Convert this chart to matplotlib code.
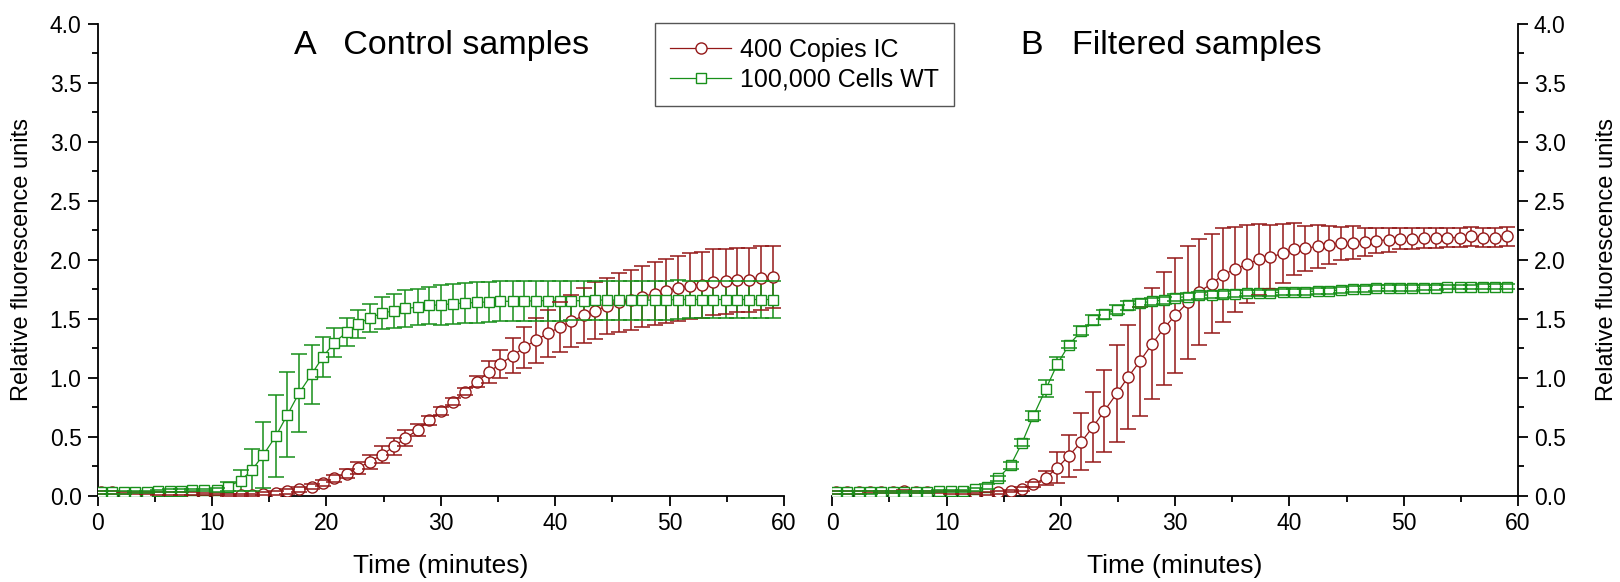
import numpy as np
import matplotlib.pyplot as plt
from matplotlib.ticker import MultipleLocator

plt.rcParams['font.family'] = ['Liberation Sans', 'DejaVu Sans']

# time of each reading (minutes)
time_min = [0.3, 1.3, 2.3, 3.3, 4.3, 5.3, 6.3, 7.3, 8.3, 9.3,
            10.4, 11.4, 12.5, 13.5, 14.5, 15.6, 16.6, 17.6, 18.7, 19.7,
            20.7, 21.8, 22.8, 23.8, 24.9, 25.9, 26.9, 28.0, 29.0, 30.0,
            31.1, 32.1, 33.2, 34.2, 35.2, 36.3, 37.3, 38.3, 39.4, 40.4,
            41.4, 42.5, 43.5, 44.5, 45.6, 46.6, 47.6, 48.7, 49.7, 50.7,
            51.8, 52.8, 53.8, 54.9, 55.9, 56.9, 58.0, 59.0]

# A - control samples
ic_ctrl = [0.03, 0.03, 0.025, 0.025, 0.025, 0.02, 0.02, 0.02, 0.02, 0.015,
           0.015, 0.01, 0.01, 0.01, 0.02, 0.025, 0.04, 0.055, 0.08, 0.11,
           0.15, 0.19, 0.24, 0.29, 0.35, 0.42, 0.49, 0.56, 0.64, 0.72,
           0.80, 0.885, 0.97, 1.05, 1.12, 1.19, 1.26, 1.32, 1.38, 1.43,
           1.48, 1.53, 1.57, 1.61, 1.64, 1.66, 1.69, 1.715, 1.74, 1.76,
           1.78, 1.79, 1.81, 1.82, 1.83, 1.83, 1.85, 1.855]
ic_ctrl_err = [0.01, 0.01, 0.01, 0.01, 0.01, 0.01, 0.01, 0.01, 0.01, 0.01,
               0.01, 0.01, 0.01, 0.01, 0.015, 0.015, 0.02, 0.02, 0.02, 0.025,
               0.03, 0.04, 0.05, 0.06, 0.07, 0.07, 0.065, 0.05, 0.04, 0.03,
               0.03, 0.03, 0.05, 0.09, 0.12, 0.15, 0.175, 0.19, 0.20, 0.21,
               0.22, 0.23, 0.24, 0.24, 0.25, 0.255, 0.26, 0.265, 0.27, 0.275,
               0.28, 0.28, 0.28, 0.275, 0.275, 0.27, 0.27, 0.265]
wt_ctrl = [0.03, 0.03, 0.03, 0.035, 0.035, 0.04, 0.045, 0.045, 0.05, 0.05,
           0.05, 0.08, 0.13, 0.22, 0.35, 0.51, 0.69, 0.87, 1.03, 1.18,
           1.30, 1.39, 1.46, 1.51, 1.55, 1.57, 1.59, 1.60, 1.615, 1.62,
           1.63, 1.635, 1.64, 1.645, 1.65, 1.65, 1.65, 1.655, 1.655, 1.655,
           1.655, 1.655, 1.66, 1.66, 1.66, 1.66, 1.66, 1.66, 1.66, 1.665,
           1.665, 1.665, 1.665, 1.665, 1.665, 1.665, 1.665, 1.665]
wt_ctrl_err = [0.01, 0.01, 0.01, 0.01, 0.01, 0.01, 0.01, 0.01, 0.01, 0.01,
               0.015, 0.04, 0.09, 0.18, 0.28, 0.345, 0.36, 0.33, 0.25, 0.17,
               0.125, 0.115, 0.12, 0.12, 0.135, 0.145, 0.155, 0.155, 0.16, 0.17,
               0.17, 0.17, 0.17, 0.17, 0.17, 0.17, 0.17, 0.17, 0.17, 0.17,
               0.165, 0.165, 0.165, 0.165, 0.165, 0.165, 0.165, 0.165, 0.165, 0.165,
               0.16, 0.16, 0.16, 0.16, 0.16, 0.16, 0.16, 0.16]

# B - filtered samples
ic_filt = [0.03, 0.03, 0.03, 0.035, 0.035, 0.035, 0.04, 0.035, 0.035, 0.035,
           0.03, 0.03, 0.025, 0.02, 0.03, 0.04, 0.06, 0.10, 0.155, 0.24,
           0.34, 0.46, 0.585, 0.72, 0.87, 1.01, 1.14, 1.29, 1.42, 1.53,
           1.64, 1.73, 1.80, 1.875, 1.92, 1.965, 2.005, 2.025, 2.055, 2.09,
           2.10, 2.115, 2.13, 2.14, 2.145, 2.155, 2.165, 2.17, 2.18, 2.18,
           2.185, 2.185, 2.19, 2.19, 2.20, 2.19, 2.19, 2.20]
ic_filt_err = [0.01, 0.01, 0.01, 0.01, 0.01, 0.01, 0.01, 0.01, 0.01, 0.01,
               0.01, 0.01, 0.01, 0.01, 0.01, 0.01, 0.015, 0.02, 0.06, 0.13,
               0.18, 0.24, 0.30, 0.35, 0.41, 0.44, 0.46, 0.47, 0.48, 0.49,
               0.475, 0.45, 0.42, 0.40, 0.36, 0.33, 0.30, 0.27, 0.25, 0.22,
               0.19, 0.18, 0.16, 0.14, 0.14, 0.12, 0.11, 0.10, 0.09, 0.09,
               0.085, 0.085, 0.08, 0.08, 0.08, 0.08, 0.08, 0.08]
wt_filt = [0.03, 0.03, 0.03, 0.03, 0.035, 0.035, 0.035, 0.035, 0.035, 0.04,
           0.04, 0.04, 0.055, 0.08, 0.15, 0.26, 0.45, 0.68, 0.91, 1.12,
           1.28, 1.40, 1.49, 1.54, 1.58, 1.615, 1.635, 1.65, 1.66, 1.68,
           1.69, 1.70, 1.705, 1.71, 1.715, 1.72, 1.72, 1.72, 1.73, 1.73,
           1.73, 1.74, 1.74, 1.745, 1.755, 1.755, 1.76, 1.76, 1.76, 1.765,
           1.765, 1.765, 1.77, 1.77, 1.77, 1.775, 1.775, 1.775]
wt_filt_err = [0.01, 0.01, 0.01, 0.01, 0.01, 0.01, 0.01, 0.01, 0.01, 0.01,
               0.01, 0.01, 0.015, 0.02, 0.02, 0.03, 0.03, 0.04, 0.07, 0.055,
               0.03, 0.04, 0.04, 0.04, 0.04, 0.035, 0.035, 0.03, 0.03, 0.03,
               0.03, 0.03, 0.03, 0.03, 0.03, 0.025, 0.025, 0.025, 0.025, 0.025,
               0.025, 0.025, 0.025, 0.025, 0.025, 0.025, 0.025, 0.025, 0.025, 0.025,
               0.02, 0.02, 0.02, 0.02, 0.02, 0.02, 0.02, 0.02]

labels = ['400 Copies IC', '100,000 Cells WT']
red = '#941818'
green = '#18901a'


def draw_series(ax, y, err, color, marker, ms):
    line, = ax.plot(time_min, y, color=color, lw=0.9, marker=marker, ms=ms,
                    mfc='white', mec=color, mew=1.0, zorder=3)
    _, caps, bars = ax.errorbar(time_min, y, yerr=err, fmt='none', ecolor=color,
                                elinewidth=1.1, capsize=6, capthick=1.1)
    for c in caps:
        c.set_zorder(4)
    for b in bars:
        b.set_zorder(2)
    return line


def style_axis(ax, side):
    ax.set_xlim(0, 60)
    ax.set_ylim(0, 4)
    ax.xaxis.set_major_locator(MultipleLocator(10))
    ax.xaxis.set_minor_locator(MultipleLocator(5))
    ax.yaxis.set_major_locator(MultipleLocator(0.5))
    ax.yaxis.set_minor_locator(MultipleLocator(0.25))
    ax.yaxis.set_major_formatter(plt.FormatStrFormatter('%.1f'))
    ax.spines['top'].set_visible(False)
    if side == 'left':
        ax.spines['right'].set_visible(False)
        ypad = 12
    else:
        ax.spines['left'].set_visible(False)
        ax.yaxis.tick_right()
        ax.yaxis.set_label_position('right')
        ypad = 22
    for s in ax.spines.values():
        s.set_linewidth(1.3)
    ax.tick_params(which='major', length=7.5, width=1.3, labelsize=16.5, pad=4)
    ax.tick_params(which='minor', length=4.5, width=1.3)
    ax.set_xlabel('Time (minutes)', fontsize=19, labelpad=14)
    ax.set_ylabel('Relative fluorescence units', fontsize=17, labelpad=ypad)


fig = plt.figure(figsize=(16.2, 5.82), dpi=100)
ax_a = fig.add_axes([0.0602, 0.1478, 0.4238, 0.811])
ax_b = fig.add_axes([0.5138, 0.1478, 0.4232, 0.811])

h1 = draw_series(ax_a, ic_ctrl, ic_ctrl_err, red, 'o', 8)
h2 = draw_series(ax_a, wt_ctrl, wt_ctrl_err, green, 's', 7)
draw_series(ax_b, ic_filt, ic_filt_err, red, 'o', 8)
draw_series(ax_b, wt_filt, wt_filt_err, green, 's', 7)

style_axis(ax_a, 'left')
style_axis(ax_b, 'right')

ax_a.text(0.286, 0.955, 'A   Control samples', transform=ax_a.transAxes,
          fontsize=24.5, ha='left', va='center')
ax_b.text(0.275, 0.955, 'B   Filtered samples', transform=ax_b.transAxes,
          fontsize=24.5, ha='left', va='center')

leg = fig.legend([h1, h2], labels, loc='upper left', bbox_to_anchor=(0.4043, 0.9605),
                 borderaxespad=0, fontsize=18, numpoints=1, handlelength=2.45,
                 fancybox=False, framealpha=1, edgecolor='#555555',
                 borderpad=0.6, labelspacing=0.22, handletextpad=0.35)
leg.get_frame().set_linewidth(1.0)

fig.savefig('out.png', dpi=100)
